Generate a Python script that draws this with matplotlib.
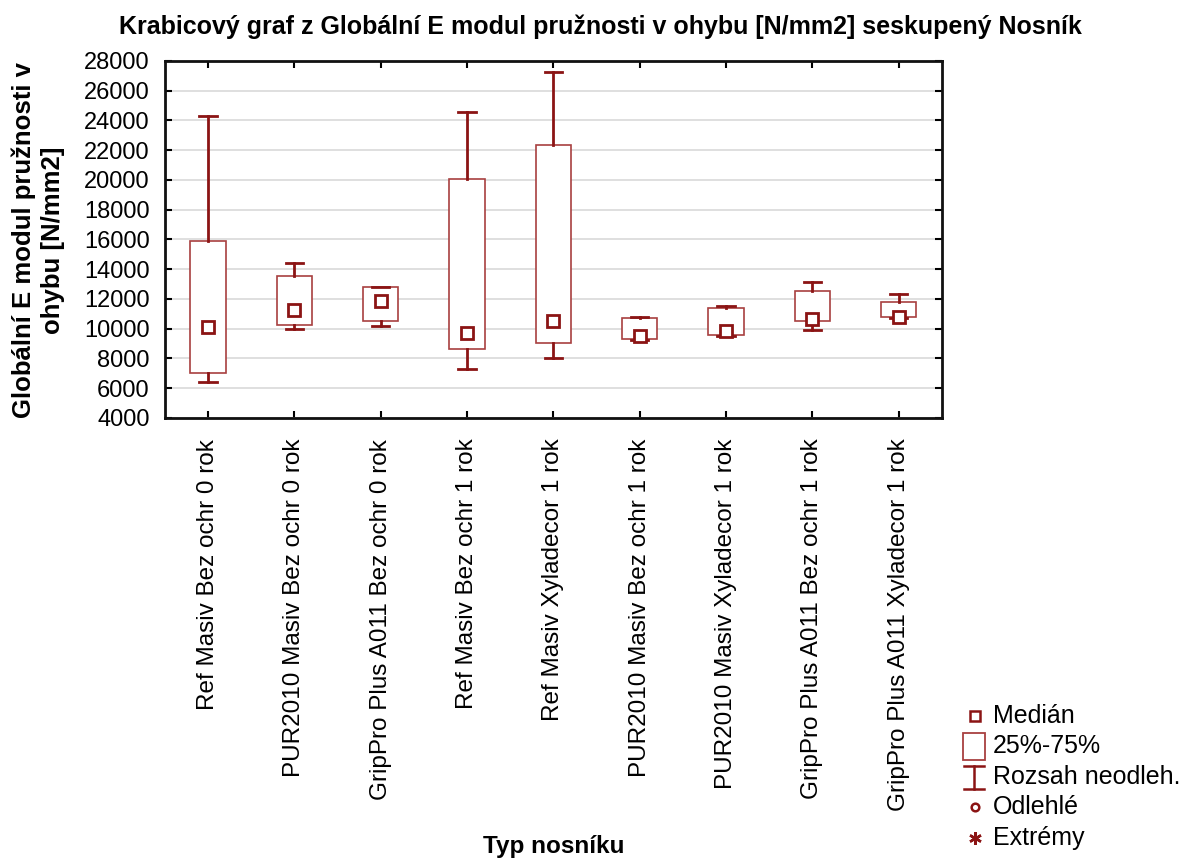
import matplotlib
matplotlib.use("Agg")
import matplotlib.pyplot as plt
from matplotlib.lines import Line2D
from matplotlib.patches import Rectangle

plt.rcParams['font.family'] = ['Liberation Sans', 'DejaVu Sans']

categories = [
    "Ref Masiv Bez ochr 0 rok",
    "PUR2010 Masiv Bez ochr 0 rok",
    "GripPro Plus A011 Bez ochr 0 rok",
    "Ref Masiv Bez ochr 1 rok",
    "Ref Masiv Xyladecor 1 rok",
    "PUR2010 Masiv Bez ochr 1 rok",
    "PUR2010 Masiv Xyladecor 1 rok",
    "GripPro Plus A011 Bez ochr 1 rok",
    "GripPro Plus A011 Xyladecor 1 rok",
]
medians = [10100, 11280, 11850, 9690, 10540, 9500, 9830, 10620, 10800]
q1 = [7000, 10250, 10520, 8640, 9060, 9300, 9560, 10500, 10780]
q3 = [15860, 13570, 12790, 20060, 22370, 10700, 11400, 12500, 11800]
whisker_low = [6420, 10000, 10200, 7270, 8010, 9250, 9480, 9900, 10700]
whisker_high = [24280, 14400, 12800, 24570, 27240, 10750, 11500, 13150, 12330]
yticks = list(range(4000, 28001, 2000))

title = "Krabicový graf z Globální E modul pružnosti v ohybu [N/mm2] seskupený Nosník"
ylabel = "Globální E modul pružnosti v\nohybu [N/mm2]"
xlabel = "Typ nosníku"
legend_labels = ["Medián", "25%-75%", "Rozsah neodleh.", "Odlehlé", "Extrémy"]

dark = "#8B1414"
boxc = "#A84040"

fig = plt.figure(figsize=(11.86, 8.58), dpi=100)
ax = fig.add_axes([0.139, 0.513, 0.655, 0.416])

stats = []
for i in range(len(categories)):
    stats.append(dict(med=medians[i], q1=q1[i], q3=q3[i],
                      whislo=whisker_low[i], whishi=whisker_high[i], fliers=[]))
positions = list(range(len(categories)))
ax.bxp(stats, positions=positions, widths=0.41, capwidths=0.2,
       patch_artist=True,
       boxprops=dict(facecolor="white", edgecolor=boxc, linewidth=1.2),
       whiskerprops=dict(color=dark, linewidth=2),
       capprops=dict(color=dark, linewidth=2),
       medianprops=dict(visible=False),
       showfliers=False, zorder=3)
ax.plot(positions, medians, linestyle="none", marker="s", markersize=8,
        markerfacecolor="white", markeredgecolor=dark, markeredgewidth=2, zorder=5)

ax.set_xlim(-0.5, len(categories) - 0.5)
ax.set_ylim(4000, 28000)
ax.set_yticks(yticks)
ax.set_yticklabels([str(t) for t in yticks], fontsize=17)
ax.set_xticks(positions)
ax.set_xticklabels(categories, rotation=90, fontsize=17.5)
ax.tick_params(axis="both", direction="in", top=True, right=True, length=5, width=1.5, color="black")
ax.tick_params(axis="x", pad=15)
ax.tick_params(axis="y", pad=11)
ax.yaxis.grid(True, color="#D9D9D9", linewidth=1.2, zorder=0)
ax.set_axisbelow(True)
for s in ax.spines.values():
    s.set_linewidth(2)
    s.set_color("#111111")

fig.text(0.0325, 0.72, ylabel, fontsize=18.5, fontweight="bold", rotation=90,
         ha="center", va="center", multialignment="center", linespacing=1.25)
fig.text(0.4665, 1 - 853 / 858, xlabel, fontsize=17.5, fontweight="bold", ha="center", va="baseline")
fig.text(0.506, 0.969, title, fontsize=18, fontweight="bold", ha="center", va="center")

# legend drawn in figure pixel coordinates
H = 858.0
W = 1186.0
def fx(x):
    return x / W
def fy(y):
    return 1 - y / H

ys = [716, 746, 777, 807, 838]
fig.add_artist(Line2D([fx(975)], [fy(ys[0])], marker="s", markersize=6.5, markerfacecolor="white",
                      markeredgecolor=dark, markeredgewidth=1.8, linestyle="none"))
fig.add_artist(Rectangle((fx(963), fy(760)), fx(985) - fx(963), fy(733) - fy(760),
                         facecolor="white", edgecolor=boxc, linewidth=1.3))
fig.add_artist(Line2D([fx(974), fx(974)], [fy(766), fy(789)], color=dark, linewidth=1.8))
fig.add_artist(Line2D([fx(964), fx(984)], [fy(766), fy(766)], color=dark, linewidth=1.8))
fig.add_artist(Line2D([fx(964), fx(984)], [fy(789), fy(789)], color=dark, linewidth=1.8))
fig.add_artist(Line2D([fx(975)], [fy(ys[3])], marker="o", markersize=5.5, markerfacecolor="white",
                      markeredgecolor=dark, markeredgewidth=1.8, linestyle="none"))
fig.add_artist(Line2D([fx(975)], [fy(ys[4])], marker=(6, 2, 0), markersize=9,
                      markeredgecolor=dark, markeredgewidth=1.8, linestyle="none"))
for y, lab in zip(ys, legend_labels):
    fig.text(fx(993), fy(y), lab, fontsize=18, ha="left", va="center")

fig.savefig("out.png", dpi=100, facecolor="white")
